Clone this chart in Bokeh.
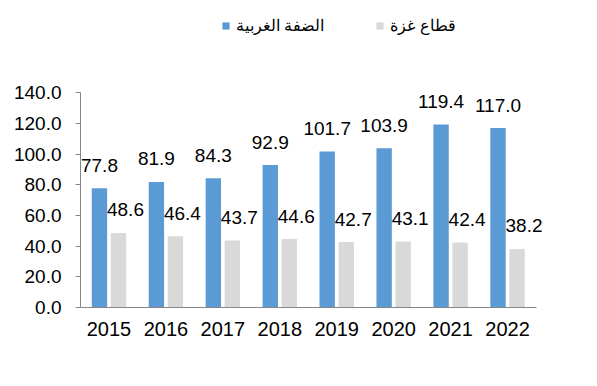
from bokeh.plotting import figure
from bokeh.models import (ColumnDataSource, Range1d, FixedTicker,
                          NumeralTickFormatter, LabelSet, Legend, LegendItem)
from bokeh.core.properties import value
from bokeh.transform import dodge
from bokeh.embed import file_html
from bokeh.resources import INLINE

years = ["2015", "2016", "2017", "2018", "2019", "2020", "2021", "2022"]
west_bank = [77.8, 81.9, 84.3, 92.9, 101.7, 103.9, 119.4, 117.0]
gaza = [48.6, 46.4, 43.7, 44.6, 42.7, 43.1, 42.4, 38.2]
series_names = ["الضفة الغربية", "قطاع غزة"]
y_ticks = [0, 20, 40, 60, 80, 100, 120, 140]

BLUE = "#5b9bd5"
GRAY = "#d9d9d9"
AXIS = "#868686"
FONT = "Liberation Sans"

# layout (pixels)
W, H = 589, 370
BL, BR, BT, BB = 80, 2, 4, 63
CAT_PX = 455.5 / len(years)      # width of one category on screen
AXIS_PX = 214.7                   # height of 0..140 on screen
frame_w = W - BL - BR
frame_h = H - BT - BB
n = len(years)
y_max_axis = y_ticks[-1]

idx = list(range(n))
src = ColumnDataSource(dict(
    x=idx,
    wb=west_bank,
    gz=gaza,
    wb_txt=[f"{v:.1f}" for v in west_bank],
    gz_txt=[f"{v:.1f}" for v in gaza],
))

x_start = -0.5
x_end = x_start + frame_w / CAT_PX
y_end = y_max_axis * frame_h / AXIS_PX

p = figure(x_range=Range1d(x_start, x_end), y_range=Range1d(0, y_end),
           width=W, height=H, output_backend="svg", toolbar_location=None,
           min_border_left=BL, min_border_right=BR, min_border_top=BT,
           min_border_bottom=BB)
p.outline_line_color = None
p.xgrid.grid_line_color = None
p.ygrid.grid_line_color = None

r1 = p.vbar(x=dodge("x", -0.167), top="wb", width=0.27,
            source=src, fill_color=BLUE, line_color=None)
r2 = p.vbar(x=dodge("x", 0.167), top="gz", width=0.27,
            source=src, fill_color=GRAY, line_color=None)

lab1 = LabelSet(x=dodge("x", -0.167), y="wb", text="wb_txt",
                source=src, text_align="center", text_baseline="middle",
                y_offset=23, text_font=value(FONT), text_font_size=value("19px"),
                text_color="#000000")
lab2 = LabelSet(x=dodge("x", 0.167), y="gz", text="gz_txt",
                source=src, text_align="center", text_baseline="middle",
                x_offset=7, y_offset=23, text_font=value(FONT),
                text_font_size=value("19px"), text_color="#000000")
p.add_layout(lab1)
p.add_layout(lab2)

p.yaxis.bounds = (0, y_max_axis)
p.yaxis.ticker = FixedTicker(ticks=y_ticks)
p.yaxis.formatter = NumeralTickFormatter(format="0.0")
p.yaxis.axis_line_color = AXIS
p.yaxis.major_tick_line_color = AXIS
p.yaxis.major_tick_out = 5
p.yaxis.major_tick_in = 0
p.yaxis.minor_tick_line_color = None
p.yaxis.major_label_standoff = 14
p.yaxis.major_label_text_font = FONT
p.yaxis.major_label_text_font_size = "19px"
p.yaxis.major_label_text_color = "#000000"

p.xaxis.bounds = (-0.5, n - 0.5)
p.xaxis.ticker = FixedTicker(ticks=idx)
p.xaxis.major_label_overrides = {i: y for i, y in zip(idx, years)}
p.xaxis.axis_line_color = AXIS
p.xaxis.major_tick_line_color = None
p.xaxis.minor_tick_line_color = None
p.xaxis.major_tick_out = 0
p.xaxis.major_tick_in = 0
p.xaxis.major_label_standoff = 14
p.xaxis.major_label_text_font = FONT
p.xaxis.major_label_text_font_size = "20px"
p.xaxis.major_label_text_color = "#000000"

legend = Legend(items=[LegendItem(label=series_names[0], renderers=[r1]),
                       LegendItem(label=series_names[1], renderers=[r2])],
                orientation="horizontal", location=(141, 272),
                glyph_width=9, glyph_height=9, label_standoff=6, spacing=51,
                padding=0, margin=0, border_line_color=None,
                background_fill_alpha=0, label_text_font=FONT,
                label_text_font_size="16px", label_text_color="#000000")
p.add_layout(legend)

open("out.html", "w").write(file_html(p, INLINE))
